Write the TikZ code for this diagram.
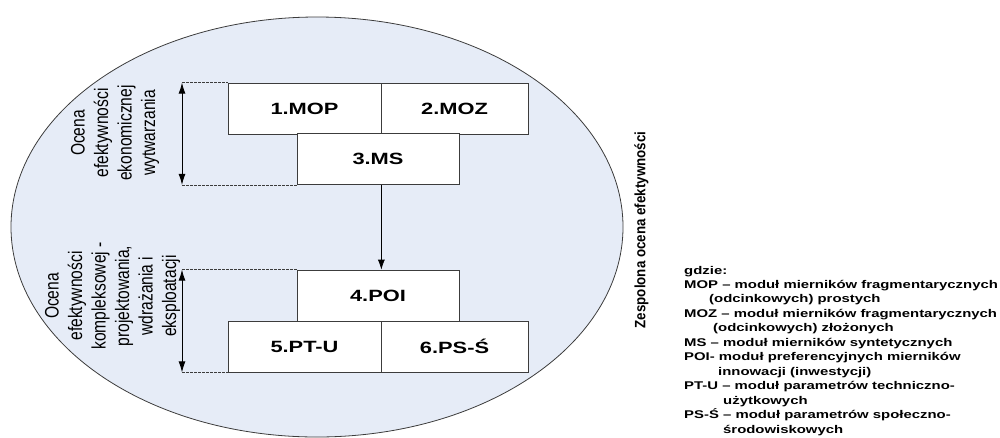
\documentclass[tikz,border=0pt]{standalone}
\usepackage{fontspec}
\setmainfont{Liberation Sans}
\newfontfamily\boxfont{Liberation Sans}[FakeStretch=1.34]
\newfontfamily\legfont{Liberation Sans}[FakeStretch=1.33]
\newfontfamily\sidefont{Liberation Sans}[FakeStretch=0.8]
\newfontfamily\titlefont{Liberation Sans}[FakeStretch=0.89]
\usetikzlibrary{arrows.meta}
\definecolor{ovalfill}{RGB}{230,236,247}
\definecolor{edgegray}{RGB}{60,60,60}
\tikzset{
  modbox/.style={draw=edgegray, line width=0.7pt, fill=white, inner sep=0pt,
    minimum height=51pt, font=\boxfont\bfseries\fontsize{16.3}{19}\selectfont},
  guide/.style={draw=edgegray, dashed, dash pattern=on 2.5pt off 1.5pt, line width=0.6pt},
  span/.style={line width=0.9pt, {Latex[length=11pt,width=7pt]}-{Latex[length=11pt,width=7pt]}},
  flow/.style={line width=0.7pt, -{Latex[length=10pt,width=7pt]}},
  sidelabel/.style={rotate=90, align=center, inner sep=0pt,
    font=\sidefont\fontsize{19.5}{23.5}\selectfont},
  legline/.style={anchor=base west, inner sep=0pt,
    font=\legfont\bfseries\fontsize{11.2}{14}\selectfont}
}
\begin{document}
\begin{tikzpicture}[x=1pt,y=-1pt]
\useasboundingbox (0,0) rectangle (1000,437);

% overall oval
\draw[draw=edgegray, line width=0.8pt, fill=ovalfill] (317,227) ellipse [x radius=306, y radius=210];

% economic production modules
\node[modbox, minimum width=153pt] (mop) at (304.5,108.5) {1.MOP};
\node[modbox, minimum width=147pt] (moz) at (454.5,108.5) {2.MOZ};
\node[modbox, minimum width=162pt] (ms)  at (378,159) {3.MS};

% complex evaluation modules
\node[modbox, minimum width=162pt] (poi) at (378,295.5) {4.POI};
\node[modbox, minimum width=153pt] (ptu) at (304.5,346.5) {5.PT-U};
\node[modbox, minimum width=147pt] (pss) at (454.5,346.5) {6.PS-Ś};

% flow between the two groups
\draw[flow] (ms.south -| mop.east) -- (poi.north -| mop.east);

% dimension lines on the left
\coordinate (dim) at (182,0);
\coordinate (d1) at (dim |- mop.north west);
\coordinate (d2) at (dim |- ms.south west);
\coordinate (d3) at (dim |- poi.north west);
\coordinate (d4) at (dim |- ptu.south west);
\draw[guide] (d1) -- (mop.north west);
\draw[guide] (d2) -- (ms.south west);
\draw[guide] (d3) -- (poi.north west);
\draw[guide] (d4) -- (ptu.south west);
\draw[span] (d1) -- (d2);
\draw[span] (d3) -- (d4);

% side labels
\node[sidelabel] (lab1) at (115,133) {Ocena\\efektywności\\ekonomicznej\\wytwarzania};
\node[sidelabel] (lab2) at (112.5,296) {Ocena\\efektywności\\kompleksowej -\\projektowania,\\wdrażania i\\eksploatacji};

% title of the oval
\node[rotate=90, inner sep=0pt, font=\titlefont\bfseries\fontsize{15}{17}\selectfont] (title) at (641.5,230) {Zespolona ocena efektywności};

% legend
\node[legline] (g1)  at (684,274) {gdzie:};
\node[legline] (g2)  at (684,288) {MOP – moduł mierników fragmentarycznych};
\node[legline] (g3)  at (709,302.5) {(odcinkowych) prostych};
\node[legline] (g4)  at (684,317) {MOZ – moduł mierników fragmentarycznych};
\node[legline] (g5)  at (713,331.5) {(odcinkowych) złożonych};
\node[legline] (g6)  at (684,346) {MS – moduł mierników syntetycznych};
\node[legline] (g7)  at (684,360.5) {POI- moduł preferencyjnych mierników};
\node[legline] (g8)  at (718,375) {innowacji (inwestycji)};
\node[legline] (g9)  at (684,389.5) {PT-U – moduł parametrów techniczno-};
\node[legline] (g10) at (723,404) {użytkowych};
\node[legline] (g11) at (684,418.5) {PS-Ś – moduł parametrów społeczno-};
\node[legline] (g12) at (723,433) {środowiskowych};
\end{tikzpicture}
\end{document}
